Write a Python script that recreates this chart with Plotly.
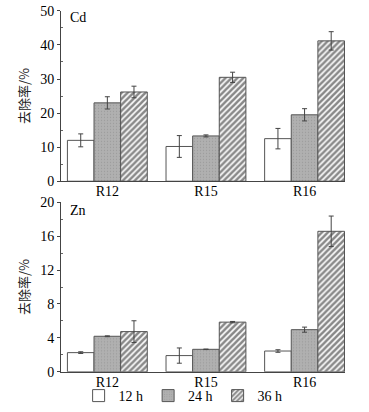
import plotly.graph_objects as go

categories = ["R12", "R15", "R16"]
series_names = ["12 h", "24 h", "36 h"]

cd_values = {
    "12 h": [12.0, 10.2, 12.5],
    "24 h": [23.0, 13.3, 19.5],
    "36 h": [26.2, 30.5, 41.2],
}
cd_errors = {
    "12 h": [1.9, 3.2, 3.0],
    "24 h": [1.8, 0.3, 1.8],
    "36 h": [1.7, 1.5, 2.7],
}
zn_values = {
    "12 h": [2.26, 1.91, 2.45],
    "24 h": [4.19, 2.65, 4.97],
    "36 h": [4.74, 5.86, 16.58],
}
zn_errors = {
    "12 h": [0.1, 0.9, 0.15],
    "24 h": [0.05, 0.03, 0.3],
    "36 h": [1.28, 0.08, 1.8],
}

cd_ticks = [0, 10, 20, 30, 40, 50]
zn_ticks = [0, 4, 8, 12, 16, 20]

styles = {
    "12 h": dict(color="white", pattern=dict(shape="")),
    "24 h": dict(color="#b0b0b0", pattern=dict(shape=".", fgcolor="#888888", size=3, solidity=0.15)),
    "36 h": dict(color="white", pattern=dict(shape="/", fgcolor="#111111", size=4.2, solidity=0.62)),
}

SERIF = "Liberation Serif"
fig = go.Figure()

for panel, vals, errs, yax in [("Cd", cd_values, cd_errors, "y"), ("Zn", zn_values, zn_errors, "y2")]:
    for name in series_names:
        st = styles[name]
        fig.add_trace(go.Bar(
            x=categories, y=vals[name], name=name,
            xaxis="x" if yax == "y" else "x2", yaxis=yax,
            marker=dict(color=st["color"], pattern=st["pattern"],
                        line=dict(color="#555555", width=1)),
            error_y=dict(type="data", array=errs[name], color="#444444",
                         thickness=1, width=2.5),
            showlegend=(panel == "Zn"),
            offsetgroup=name,
        ))

axis_font = dict(family=SERIF, size=14, color="black")
common_x = dict(type="category", range=[-0.47, 2.41], showline=True, linecolor="#444",
                linewidth=1, ticks="", tickfont=axis_font, showgrid=False, zeroline=False,
                automargin=False, ticklabelstandoff=-3)
common_y = dict(showline=True, linecolor="#444", linewidth=1, ticks="outside", ticklen=3,
                tickcolor="#444", tickfont=axis_font, showgrid=False, zeroline=False,
                automargin=False, ticklabeloverflow="allow",
                title=dict(text="去除率/%", font=dict(family="Noto Sans CJK SC", size=13, color="#222"),
                           standoff=7))

fig.update_layout(
    width=369, height=412,
    margin=dict(l=61, r=24, t=0, b=0),
    paper_bgcolor="white", plot_bgcolor="white",
    barmode="group", bargap=0.19, bargroupgap=0,
    xaxis=dict(common_x, domain=[0, 1], anchor="y"),
    yaxis=dict(common_y, domain=[0.5558, 0.9733], range=[0, 50], tickvals=cd_ticks,
               minor=dict(ticks="inside", ticklen=2, tickcolor="#666", tickvals=[5, 15, 25, 35, 45])),
    xaxis2=dict(common_x, domain=[0, 1], anchor="y2"),
    yaxis2=dict(common_y, domain=[0.0888, 0.5041], range=[0, 20], tickvals=zn_ticks,
                minor=dict(ticks="inside", ticklen=2, tickcolor="#666", tickvals=[2, 6, 10, 14, 18])),
    legend=dict(orientation="h", x=0.43, xanchor="center", y=0.029, yanchor="middle",
                font=dict(family=SERIF, size=14, color="black"),
                itemwidth=30, tracegroupgap=0, bgcolor="rgba(0,0,0,0)"),
    annotations=[
        dict(text="Cd", x=0.025, y=0.956, xref="paper", yref="paper", showarrow=False,
             xanchor="left", yanchor="middle", font=dict(family=SERIF, size=14, color="black")),
        dict(text="Zn", x=0.025, y=0.485, xref="paper", yref="paper", showarrow=False,
             xanchor="left", yanchor="middle", font=dict(family=SERIF, size=14, color="black")),
    ],
)

fig.write_html("out.html", config={"displayModeBar": False},
               post_script="document.body.style.margin='0';")
